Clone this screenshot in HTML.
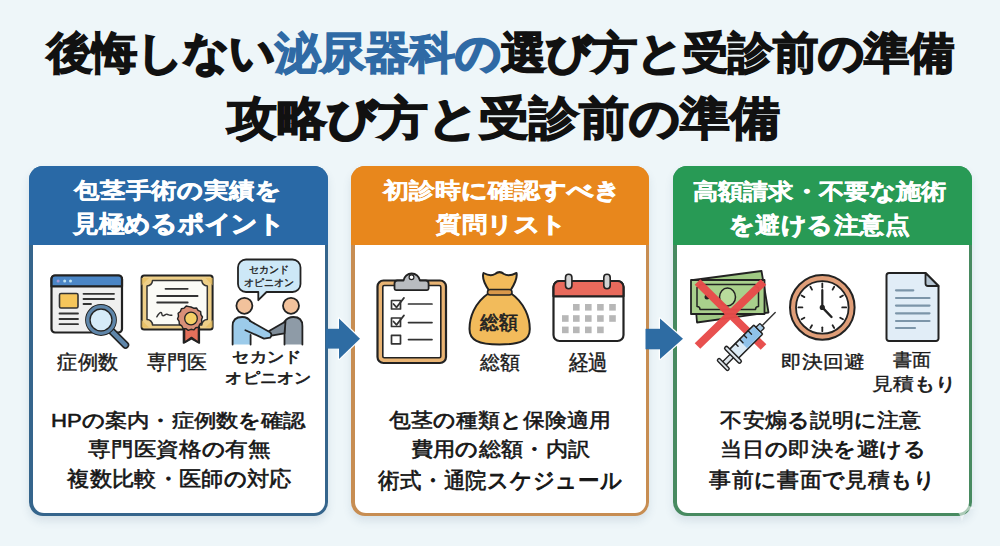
<!DOCTYPE html>
<html lang="ja">
<head>
<meta charset="utf-8">
<style>
*{margin:0;padding:0;box-sizing:border-box}
html,body{width:1000px;height:546px;overflow:hidden}
body{position:relative;background:#eef6f9;font-family:"Liberation Sans",sans-serif;color:#161616}
.panel{position:absolute;top:166px;width:299px;height:350px;border-radius:14px;box-shadow:0 5px 9px rgba(60,90,120,.13)}
.p1{left:29px;background:#35658c}
.p2{left:351px;width:298px;background:#c78d52}
.p3{left:673px;background:#478a60}
.hd{position:absolute;left:0;top:0;right:0;height:79px;border-radius:14px 14px 0 0}
.p1 .hd{background:#2969a6}
.p2 .hd{background:#e8871c}
.p3 .hd{background:#289a55}
.in{position:absolute;left:3.5px;right:3.5px;top:79px;bottom:3.5px;background:#fff;border-radius:0 0 11px 11px}
svg.ov{position:absolute;left:0;top:0}
.x{position:absolute;white-space:nowrap;line-height:1}
.tt{font-weight:700;-webkit-text-stroke:1.5px #111;color:#111}
.hx{font-weight:700;-webkit-text-stroke:0.4px #fff;color:#fff}
.lb{font-weight:400;-webkit-text-stroke:0.4px #1a1a1a;color:#1a1a1a}
.bd{font-weight:400;-webkit-text-stroke:0.6px #151515;color:#151515}
.k{font-style:normal}
.tt .k{-webkit-text-stroke-width:2.3px}
.hx .k{-webkit-text-stroke-width:1.1px}
.lb .k{-webkit-text-stroke-width:0.75px}
.bd .k{-webkit-text-stroke-width:0.9px}

.blue{color:#2f6aa5;-webkit-text-stroke-color:#2f6aa5}
</style>
</head>
<body>

<div class="panel p1">
  <div class="hd"></div>
  <div class="in"></div>
</div>

<div class="panel p2">
  <div class="hd"></div>
  <div class="in"></div>
</div>

<div class="panel p3">
  <div class="hd"></div>
  <div class="in"></div>
</div>

<svg class="ov" width="1000" height="546" viewBox="0 0 1000 546" stroke-linejoin="round" stroke-linecap="round">
<!-- ICON 1: browser + magnifier -->
<g>
  <rect x="51.5" y="275.5" width="70.5" height="57" rx="3.5" fill="#efefef" stroke="#222" stroke-width="2.2"/>
  <path d="M51.5 286.4 V279 a3.5 3.5 0 0 1 3.5 -3.5 H118.5 a3.5 3.5 0 0 1 3.5 3.5 V286.4 Z" fill="#4b86c6" stroke="#222" stroke-width="2.2"/>
  <circle cx="58.1" cy="281" r="1.5" fill="#a99ad8"/>
  <circle cx="64.7" cy="281" r="1.5" fill="#bfe3f2"/>
  <circle cx="70.5" cy="281" r="1.5" fill="#bfe3f2"/>
  <rect x="59.5" y="293.5" width="18.5" height="14.5" rx="1.5" fill="#f6c65b" stroke="#333" stroke-width="1.6"/>
  <g stroke="#333" stroke-width="1.8" fill="none">
    <path d="M83.5 293.8 H114"/><path d="M83.5 299 H114"/><path d="M83.5 304 H91"/>
    <path d="M59.5 313.5 H78"/><path d="M59.5 319 H78"/><path d="M59.5 324.2 H78"/>
  </g>
  <path d="M112 331.5 L125.5 345" stroke="#222" stroke-width="7.5"/>
  <path d="M112 331.5 L125.5 345" stroke="#5f86aa" stroke-width="4.5"/>
  <circle cx="101" cy="320" r="15" fill="#d6ebf8" stroke="#222" stroke-width="1.8"/>
  <circle cx="101" cy="320" r="13.2" fill="none" stroke="#5f86aa" stroke-width="3.6"/>
  <circle cx="101" cy="320" r="11" fill="none" stroke="#222" stroke-width="1.4"/>
</g>
<!-- ICON 2: certificate -->
<g>
  <rect x="141.6" y="275.6" width="71" height="54" rx="2.5" fill="#eecf88" stroke="#222" stroke-width="2"/>
  <path d="M141.6 278 L149 278 L141.6 285.5 Z M212.6 278 L205.5 278 L212.6 285.5 Z M141.6 327.5 L149 327.5 L141.6 320 Z M212.6 327.5 L205.5 327.5 L212.6 320 Z" fill="#e7bf63" opacity="0.8"/>
  <path d="M152.5 280.5 H201.8 a5.5 5.5 0 0 0 5.5 5.5 V319.5 a5.5 5.5 0 0 0 -5.5 5.5 H152.5 a5.5 5.5 0 0 0 -5.5 -5.5 V286 a5.5 5.5 0 0 0 5.5 -5.5 Z" fill="#fbfbf6" stroke="#333" stroke-width="1.5"/>
  <g stroke="#333" stroke-width="1.8" fill="none">
    <path d="M165.5 288.8 H187.7"/><path d="M157.2 296 H197.6"/><path d="M157.2 302.5 H187.7"/>
    <path d="M156.8 316.8 c1.5 -2.5 3 -5 4.5 -4.2 c1 0.8 0 3.2 1.8 3.2 c1.8 0 2.3 -2 3.8 -1.6 c1.5 0.4 2 1.4 5 1" stroke-width="1.4"/>
  </g>
  <path d="M183.5 327 V343 L191.5 338.7 L199.3 343 V327 Z" fill="#e4735d" stroke="#222" stroke-width="1.6"/>
  <path d="M201.50 318.80 L200.26 320.94 L200.45 323.40 L198.41 324.79 L197.51 327.09 L195.07 327.45 L193.26 329.13 L190.90 328.40 L188.54 329.13 L186.73 327.45 L184.29 327.09 L183.39 324.79 L181.35 323.40 L181.54 320.94 L180.30 318.80 L181.54 316.66 L181.35 314.20 L183.39 312.81 L184.29 310.51 L186.73 310.15 L188.54 308.47 L190.90 309.20 L193.26 308.47 L195.07 310.15 L197.51 310.51 L198.41 312.81 L200.45 314.20 L200.26 316.66 Z" fill="#d99e86" stroke="#222" stroke-width="1.5"/>
  <circle cx="190.9" cy="318.8" r="6.8" fill="#f4cd60" stroke="#222" stroke-width="1.4"/>
</g>
  <path d="M184.5 326 V342.5 L191.5 337.5 L198.5 342.5 V326 Z" fill="#e4705b" stroke="#222" stroke-width="1.6"/>
  <path d="M191 307 l2.6 1.2 2.9 -0.2 1.6 2.4 2.6 1.3 0.2 2.9 1.6 2.4 -1 2.7 0.4 2.9 -2.3 1.8 -1 2.7 -2.8 0.7 -2 2.1 -2.8 -0.6 -2.7 1 -2.4 -1.6 -2.9 -0.3 -1.3 -2.6 -2.4 -1.6 -0.2 -2.9 -1.6 -2.4 1 -2.7 -0.4 -2.9 2.3 -1.8 1 -2.7 2.8 -0.7 2 -2.1 2.8 0.6 Z" fill="#d99078" stroke="#222" stroke-width="1.4"/>
  <circle cx="191" cy="318.5" r="6.3" fill="#f4cf66" stroke="#222" stroke-width="1.3"/>
</g>
<!-- ICON 3: speech bubble + handshake -->
<g>
  <path d="M246 259.5 H292.5 a8 8 0 0 1 8 8 V284 a8 8 0 0 1 -8 8 H266.5 L258.3 300.2 V292 H246 a8 8 0 0 1 -8 -8 V267.5 a8 8 0 0 1 8 -8 Z" fill="#cde8f7" stroke="#222" stroke-width="1.8"/>
  <text x="269.3" y="272.8" font-size="10.4" text-anchor="middle" fill="#222" stroke="#222" stroke-width="0.35" font-family="Liberation Sans, sans-serif">セカンド</text>
  <text x="269.3" y="285.8" font-size="10.4" text-anchor="middle" fill="#222" stroke="#222" stroke-width="0.35" font-family="Liberation Sans, sans-serif">オピニオン</text>
  <circle cx="244.4" cy="305.8" r="8" fill="#f2c29c" stroke="#222" stroke-width="1.8"/>
  <circle cx="291" cy="305.8" r="8" fill="#f2c29c" stroke="#222" stroke-width="1.8"/>
  <path d="M302.4 344.5 V326 Q302.4 317 293.3 317 Q288 317 284.5 321.5 V344.5 Z" fill="#8e9ba7"/>
  <path d="M302.4 344.5 V326 Q302.4 317 293.3 317 Q288 317 284.5 321.5 V344.5" fill="none" stroke="#222" stroke-width="1.8"/>
  <path d="M285.5 321.5 L269.5 330.8 Q267 333 268.5 336.2 L284.5 333.3 Z" fill="#7f8c98" stroke="#222" stroke-width="1.8"/>
  <path d="M232.6 344.5 V326 Q232.6 317 242.2 317 Q248 317 251 322 L250.6 344.5 Z" fill="#9ccbea"/>
  <path d="M232.6 344.5 V326 Q232.6 317 242.2 317 Q248 317 251 322" fill="none" stroke="#222" stroke-width="1.8"/>
  <path d="M250.6 344.5 V335" fill="none" stroke="#222" stroke-width="1.8"/>
  <path d="M250 321 L270 332.2 Q272.8 334.6 270.2 337.6 L264 338.6 L245.4 330.2" fill="#9ccbea" stroke="#222" stroke-width="1.8"/>
</g>

<!-- ICON 4: clipboard -->
<g>
  <rect x="377.5" y="280.5" width="68.5" height="82.5" rx="6" fill="#e9b474" stroke="#222" stroke-width="2.2"/>
  <rect x="382.8" y="285.5" width="58" height="72.3" rx="1.5" fill="#fff" stroke="#222" stroke-width="1.6"/>
  <path d="M394.5 288.6 V283.5 a3 3 0 0 1 3 -3 H403.5 a8.3 8.3 0 0 1 16.4 0 H425.6 a3 3 0 0 1 3 3 V288.6 a1.5 1.5 0 0 1 -1.5 1.5 H396 a1.5 1.5 0 0 1 -1.5 -1.5 Z" fill="#b9bcc0" stroke="#222" stroke-width="1.8"/>
  <circle cx="411.5" cy="277.3" r="2.4" fill="#fff" stroke="#222" stroke-width="1.2"/>
  <g fill="none" stroke="#333" stroke-width="1.7">
    <rect x="391.5" y="300.5" width="9" height="8.5"/>
    <rect x="391.5" y="318" width="9" height="8.5"/>
    <rect x="391.5" y="335.3" width="9" height="8.5"/>
    <path d="M393.5 304 l3 3.4 l7.5 -9.5"/>
    <path d="M393.5 321.5 l3 3.4 l7.5 -9.5"/>
    <path d="M408.5 304 H432"/><path d="M408.5 322.6 H432"/><path d="M408.5 339.6 H432"/>
  </g>
</g>
<!-- ICON 5: money bag -->
<g>
  <path d="M489 293 C474 303 469.5 318 469.5 329 C469.5 340 478 344.5 499.5 344.5 C521 344.5 529.8 340 529.8 329 C529.8 318 525 303 510.5 293 Z" fill="#f2bb5b" stroke="#222" stroke-width="2"/>
  <path d="M489 290.5 C484 283 482 277 483.5 273 C488 275.5 492 276 495 274 C498 271.5 501 271.5 504 274 C507 276 511.5 275.5 516.5 273 C517.5 277.5 515 283.5 510.5 290.5 Z" fill="#f2bb5b" stroke="#222" stroke-width="2"/>
  <rect x="487.5" y="289.5" width="24.5" height="5.5" rx="2.7" fill="#d9984a" stroke="#222" stroke-width="1.6"/>
  <text x="499.1" y="329.2" font-size="18.5" text-anchor="middle" fill="#222" stroke="#222" stroke-width="0.7" font-family="Liberation Sans, sans-serif">総額</text>
</g>
<!-- ICON 6: calendar -->
<g>
  <rect x="553.5" y="281" width="70" height="60" rx="6" fill="#fff" stroke="#222" stroke-width="2.2"/>
  <path d="M553.5 296.3 V287 a6 6 0 0 1 6 -6 H617.5 a6 6 0 0 1 6 6 V296.3 Z" fill="#e86a5c" stroke="#222" stroke-width="2.2"/>
  <rect x="565.5" y="274.3" width="6.4" height="14.5" rx="3.2" fill="#d2d2d2" stroke="#222" stroke-width="1.6"/>
  <rect x="603.8" y="274.3" width="6.4" height="14.5" rx="3.2" fill="#d2d2d2" stroke="#222" stroke-width="1.6"/>
  <g fill="#b7b7b7">
    <rect x="573" y="304" width="6.6" height="6.6"/><rect x="585" y="304" width="6.6" height="6.6"/><rect x="597.1" y="304" width="6.6" height="6.6"/><rect x="609.2" y="304" width="6.6" height="6.6"/>
    <rect x="562" y="315.2" width="6.6" height="6.6"/><rect x="573" y="315.2" width="6.6" height="6.6"/><rect x="585" y="315.2" width="6.6" height="6.6"/><rect x="597.1" y="315.2" width="6.6" height="6.6"/><rect x="609.2" y="315.2" width="6.6" height="6.6"/>
    <rect x="562" y="326.6" width="6.6" height="6.6"/><rect x="573" y="326.6" width="6.6" height="6.6"/><rect x="585" y="326.6" width="6.6" height="6.6"/><rect x="597.1" y="326.6" width="6.6" height="6.6"/>
  </g>
</g>

<!-- ICON 7: money + X + syringe -->
<g>
  <path d="M693.5 280 L761.5 271 L768.5 312.5 L697 322.5 Z" fill="#9fc983" stroke="#222" stroke-width="1.8"/>
  <rect x="691" y="280" width="73.5" height="34" fill="#a9d08c" stroke="#222" stroke-width="1.8"/>
  <path d="M700 284.5 H755.5 a3 3 0 0 0 3 3 V306.5 a3 3 0 0 0 -3 3 H700 a3 3 0 0 0 -3 -3 V287.5 a3 3 0 0 0 3 -3 Z" fill="none" stroke="#222" stroke-width="1.5"/>
  <ellipse cx="727.5" cy="297" rx="8" ry="9" fill="#b8dc9c" stroke="#222" stroke-width="1.5"/>
  <circle cx="707" cy="297" r="2.5" fill="#222"/>
  <path d="M697.5 282 L763.5 347 M763.5 282 L697.5 346" stroke="#e84b4a" stroke-width="8" stroke-linecap="butt" opacity="0.97"/>
  <g transform="translate(745.5 342.3) rotate(-45)">
    <rect x="-31" y="-2.4" width="14" height="4.8" fill="#dfe6ec" stroke="#222" stroke-width="1.4"/>
    <rect x="-33" y="-7.5" width="3.2" height="15" rx="1.4" fill="#dfe6ec" stroke="#222" stroke-width="1.4"/>
    <rect x="-18" y="-6.3" width="36" height="12.6" rx="1" fill="#dcebf6" stroke="#222" stroke-width="1.6"/>
    <rect x="-3" y="-5.3" width="20.2" height="10.6" fill="#8fc2ea"/>
    <path d="M-8 -6.3 V-2.5 M-2 -6.3 V-1.5 M4 -6.3 V-2.5 M10 -6.3 V-1.5" stroke="#222" stroke-width="1.4"/>
    <rect x="-19.5" y="-11" width="3.6" height="22" rx="1.8" fill="#dfe6ec" stroke="#222" stroke-width="1.5"/>
    <rect x="18" y="-3.2" width="5.5" height="6.4" rx="1" fill="#a9cbe6" stroke="#222" stroke-width="1.4"/>
    <path d="M23.5 0 H42" stroke="#333" stroke-width="1.4"/>
  </g>
</g>
<!-- ICON 8: clock -->
<g>
  <circle cx="822.3" cy="307.4" r="32.3" fill="#e09e78" stroke="#222" stroke-width="2"/>
  <circle cx="822.3" cy="307.4" r="26.3" fill="#fff" stroke="#222" stroke-width="1.8"/>
  <g stroke="#222" stroke-width="1.8">
    <path d="M822.3 283.5 V287.5"/><path d="M822.3 327.3 V331.3"/><path d="M798.4 307.4 H802.4"/><path d="M842.2 307.4 H846.2"/>
    <path d="M834.2 286.8 l-1.6 2.8"/><path d="M843 295.5 l-2.8 1.6"/><path d="M843 319.3 l-2.8 -1.6"/><path d="M834.2 328 l-1.6 -2.8"/>
    <path d="M810.4 286.8 l1.6 2.8"/><path d="M801.6 295.5 l2.8 1.6"/><path d="M801.6 319.3 l2.8 -1.6"/><path d="M810.4 328 l1.6 -2.8"/>
    <path d="M822.3 307.4 V290" stroke-width="2.2"/><path d="M822.3 307.4 L831.5 317" stroke-width="2.4"/>
  </g>
  <circle cx="822.3" cy="307.4" r="2.6" fill="#222"/>
</g>
<!-- ICON 9: document -->
<g>
  <path d="M889 273 H925.5 L938.5 286 V338.5 a2.5 2.5 0 0 1 -2.5 2.5 H889 a2.5 2.5 0 0 1 -2.5 -2.5 V275.5 a2.5 2.5 0 0 1 2.5 -2.5 Z" fill="#e1edf7" stroke="#222" stroke-width="2"/>
  <path d="M925.5 273 V283.5 a2.5 2.5 0 0 0 2.5 2.5 H938.5 Z" fill="#b4c4d2" stroke="#222" stroke-width="1.8"/>
  <g stroke="#7c95a9" stroke-width="2.2">
    <path d="M896 290.3 H913.3"/><path d="M896 298 H929.5"/><path d="M896 305.6 H929.5"/><path d="M896 313.3 H929.5"/><path d="M896 321 H929.5"/><path d="M896 328 H915"/>
  </g>
</g>

<!-- ARROWS -->
<g fill="#2e6ca3">
  <path d="M339 318.6 L360 338.7 L339 358.9 Z" stroke="#fff" stroke-width="2.5" paint-order="stroke"/>
  <rect x="326" y="328.8" width="14.5" height="19.8"/>
  <path d="M660 318.6 L683 338.8 L660 358.9 Z" stroke="#fff" stroke-width="2.5" paint-order="stroke"/>
  <rect x="645.5" y="328.8" width="16" height="20.5"/>
</g>
<!-- sparkle -->
<path d="M962 494 Q963.5 506.5 976 508 Q963.5 509.5 962 522 Q960.5 509.5 948 508 Q960.5 506.5 962 494 Z" fill="#fff" opacity="0.55"/>
</svg>
<div class="x tt" style="left:47.35px;top:29.80px;font-size:45px;transform:scale(0.9999,0.9700);transform-origin:453.00px 23.50px">後悔<i class="k">しない</i><span class="blue">泌尿器科<i class="k">の</i></span>選<i class="k">び</i>方<i class="k">と</i>受診前<i class="k">の</i>準備</div>
<div class="x tt" style="left:227.00px;top:93.40px;font-size:50px;transform:scale(1.0000,0.9200);transform-origin:275.50px 25.00px">攻略<i class="k">び</i>方<i class="k">と</i>受診前<i class="k">の</i>準備</div>
<div class="x hx" style="left:72.78px;top:177.32px;font-size:26px;transform:scale(0.9860,0.8571);transform-origin:103.30px 13.00px">包茎手術<i class="k">の</i>実績<i class="k">を</i></div>
<div class="x hx" style="left:72.28px;top:211.40px;font-size:26px;transform:scale(0.9908,0.9231);transform-origin:103.80px 12.60px">見極<i class="k">めるポイント</i></div>
<div class="x hx" style="left:382.74px;top:177.29px;font-size:26px;transform:scale(1.0043,0.8517);transform-origin:115.80px 14.00px">初診時<i class="k">に</i>確認<i class="k">すべき</i></div>
<div class="x hx" style="left:435.00px;top:210.62px;font-size:26px;transform:scale(0.9844,0.8500);transform-origin:63.00px 12.70px">質問<i class="k">リスト</i></div>
<div class="x hx" style="left:688.96px;top:178.38px;font-size:26px;transform:scale(0.9727,0.8500);transform-origin:130.90px 15.30px">高額請求<i class="k">・</i>不要<i class="k">な</i>施術</div>
<div class="x hx" style="left:727.30px;top:211.52px;font-size:26px;transform:scale(0.9784,0.9000);transform-origin:93.10px 12.60px"><i class="k">を</i>避<i class="k">ける</i>注意点</div>
<div class="x lb" style="left:57.57px;top:351.83px;font-size:20px;transform:scale(1.0262,1.0150);transform-origin:30.00px 10.00px">症例数</div>
<div class="x lb" style="left:147.38px;top:351.83px;font-size:20px;transform:scale(1.0133,1.0150);transform-origin:30.00px 10.00px">専門医</div>
<div class="x lb" style="left:232.80px;top:348.93px;font-size:17px;transform:scale(1.0176,0.8938);transform-origin:33.80px 9.20px"><i class="k">セカンド</i></div>
<div class="x lb" style="left:225.51px;top:370.41px;font-size:17px;transform:scale(1.0171,0.8938);transform-origin:43.00px 8.30px"><i class="k">オピニオン</i></div>
<div class="x lb" style="left:480.19px;top:351.63px;font-size:20px;transform:scale(0.9868,0.9350);transform-origin:19.60px 10.20px">総額</div>
<div class="x lb" style="left:568.09px;top:351.75px;font-size:20px;transform:scale(0.9661,1.0833);transform-origin:19.70px 10.00px">経過</div>
<div class="x lb" style="left:782.50px;top:352.40px;font-size:20px;transform:scale(1.0386,0.9000);transform-origin:40.00px 10.00px">即決回避</div>
<div class="x lb" style="left:892.10px;top:350.40px;font-size:20px;transform:scale(0.9544,0.9000);transform-origin:19.50px 10.00px">書面</div>
<div class="x lb" style="left:874.00px;top:374.00px;font-size:20px;transform:scale(1.0541,0.9000);transform-origin:38.00px 10.00px">見積<i class="k">もり</i></div>
<div class="x bd" style="left:51.63px;top:410.10px;font-size:22px;transform:scale(1.0070,0.8522);transform-origin:126.70px 10.50px">HP<i class="k">の</i>案内<i class="k">・</i>症例数<i class="k">を</i>確認</div>
<div class="x bd" style="left:90.82px;top:439.04px;font-size:22px;transform:scale(1.0282,0.9130);transform-origin:88.90px 10.50px">専門医資格<i class="k">の</i>有無</div>
<div class="x bd" style="left:68.82px;top:468.22px;font-size:22px;transform:scale(1.0136,0.9545);transform-origin:110.90px 9.60px">複数比較<i class="k">・</i>医師<i class="k">の</i>対応</div>
<div class="x bd" style="left:389.02px;top:409.96px;font-size:22px;transform:scale(0.9955,0.9130);transform-origin:110.40px 10.90px">包茎<i class="k">の</i>種類<i class="k">と</i>保険適用</div>
<div class="x bd" style="left:411.72px;top:439.44px;font-size:22px;transform:scale(1.0146,0.9130);transform-origin:88.30px 10.50px">費用<i class="k">の</i>総額<i class="k">・</i>内訳</div>
<div class="x bd" style="left:377.36px;top:469.56px;font-size:22px;transform:scale(0.9909,1.0182);transform-origin:122.60px 9.60px">術式<i class="k">・</i>通院<i class="k">スケジュール</i></div>
<div class="x bd" style="left:721.32px;top:410.36px;font-size:22px;transform:scale(1.0056,0.9130);transform-origin:100.20px 10.90px">不安煽<i class="k">る</i>説明<i class="k">に</i>注意</div>
<div class="x bd" style="left:722.16px;top:439.04px;font-size:22px;transform:scale(1.0195,0.9130);transform-origin:100.30px 10.50px">当日<i class="k">の</i>即決<i class="k">を</i>避<i class="k">ける</i></div>
<div class="x bd" style="left:711.04px;top:469.06px;font-size:22px;transform:scale(1.0140,0.9739);transform-origin:109.40px 10.10px">事前<i class="k">に</i>書面<i class="k">で</i>見積<i class="k">もり</i></div>
</body>
</html>
